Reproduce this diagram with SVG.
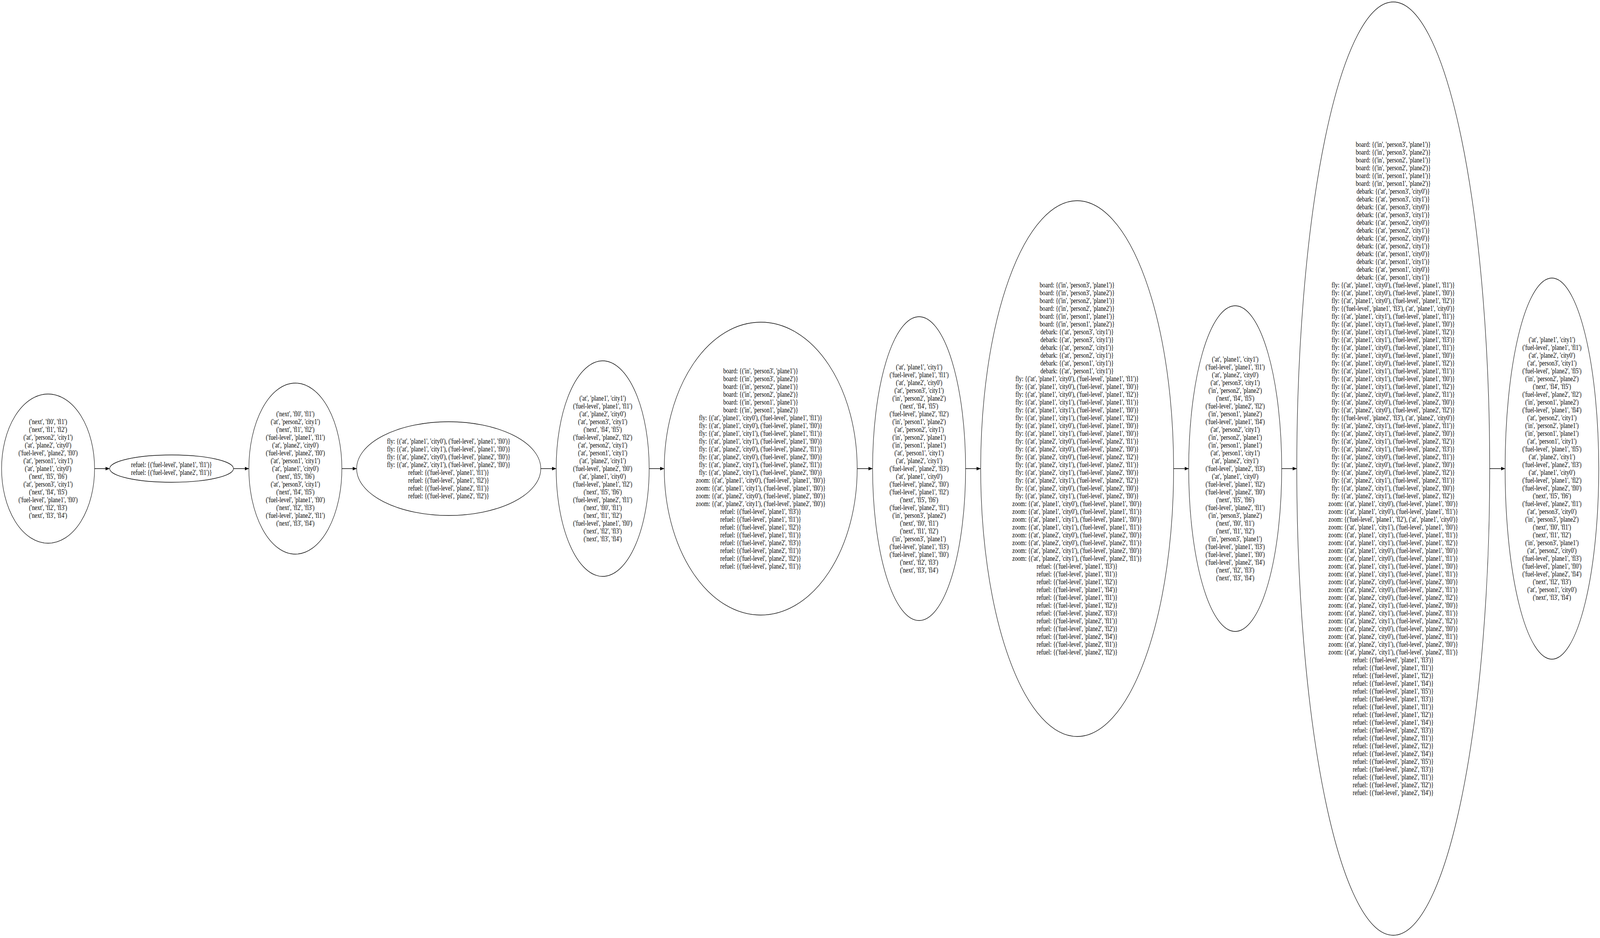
<svg xmlns="http://www.w3.org/2000/svg" width="5092" height="2402" viewBox="0 0 5092 2402" preserveAspectRatio="none">
<style>
svg{width:100vw;height:100vh;display:block}
.n ellipse{fill:none;stroke:#000;stroke-width:1.3}
text{font-family:"Liberation Serif","Times New Roman",serif;font-size:18.2px;text-anchor:middle;fill:#000}
.e line{stroke:#000;stroke-width:1.3}
</style>
<defs>
<marker id="arr" markerUnits="userSpaceOnUse" markerWidth="13" markerHeight="10" viewBox="0 0 13 9.2" refX="13" refY="4.6" orient="auto"><path d="M0,0 L13,4.6 L0,9.2 z" fill="#000"/></marker>
</defs>
<rect width="5092" height="2402" fill="#fff"/>
<g class="e" id="edges">
<line x1="301" y1="1200" x2="349" y2="1200" marker-end="url(#arr)"/>
<line x1="743" y1="1200" x2="792" y2="1200" marker-end="url(#arr)"/>
<line x1="1088" y1="1200" x2="1135" y2="1200" marker-end="url(#arr)"/>
<line x1="1721" y1="1200" x2="1770" y2="1200" marker-end="url(#arr)"/>
<line x1="2066" y1="1200" x2="2114" y2="1200" marker-end="url(#arr)"/>
<line x1="2728" y1="1200" x2="2777" y2="1200" marker-end="url(#arr)"/>
<line x1="3073" y1="1200" x2="3121" y2="1200" marker-end="url(#arr)"/>
<line x1="3735" y1="1200" x2="3783" y2="1200" marker-end="url(#arr)"/>
<line x1="4079" y1="1200" x2="4127" y2="1200" marker-end="url(#arr)"/>
<line x1="4741" y1="1200" x2="4790" y2="1200" marker-end="url(#arr)"/>
</g>
<g class="n" id="n1">
<ellipse cx="153" cy="1200" rx="148" ry="191"/>
<text y="1086"><tspan x="153">('next', 'fl0', 'fl1')</tspan><tspan x="153" dy="20">('next', 'fl1', 'fl2')</tspan><tspan x="153" dy="20">('at', 'person2', 'city1')</tspan><tspan x="153" dy="20">('at', 'plane2', 'city0')</tspan><tspan x="153" dy="20">('fuel-level', 'plane2', 'fl0')</tspan><tspan x="153" dy="20">('at', 'person1', 'city1')</tspan><tspan x="153" dy="20">('at', 'plane1', 'city0')</tspan><tspan x="153" dy="20">('next', 'fl5', 'fl6')</tspan><tspan x="153" dy="20">('at', 'person3', 'city1')</tspan><tspan x="153" dy="20">('next', 'fl4', 'fl5')</tspan><tspan x="153" dy="20">('fuel-level', 'plane1', 'fl0')</tspan><tspan x="153" dy="20">('next', 'fl2', 'fl3')</tspan><tspan x="153" dy="20">('next', 'fl3', 'fl4')</tspan></text>
</g>
<g class="n" id="n2">
<ellipse cx="546" cy="1200" rx="197" ry="35"/>
<text y="1196"><tspan x="546">refuel: {('fuel-level', 'plane1', 'fl1')}</tspan><tspan x="546" dy="20">refuel: {('fuel-level', 'plane2', 'fl1')}</tspan></text>
</g>
<g class="n" id="n3">
<ellipse cx="940" cy="1200" rx="148" ry="219"/>
<text y="1066"><tspan x="940">('next', 'fl0', 'fl1')</tspan><tspan x="940" dy="20">('at', 'person2', 'city1')</tspan><tspan x="940" dy="20">('next', 'fl1', 'fl2')</tspan><tspan x="940" dy="20">('fuel-level', 'plane1', 'fl1')</tspan><tspan x="940" dy="20">('at', 'plane2', 'city0')</tspan><tspan x="940" dy="20">('fuel-level', 'plane2', 'fl0')</tspan><tspan x="940" dy="20">('at', 'person1', 'city1')</tspan><tspan x="940" dy="20">('at', 'plane1', 'city0')</tspan><tspan x="940" dy="20">('next', 'fl5', 'fl6')</tspan><tspan x="940" dy="20">('at', 'person3', 'city1')</tspan><tspan x="940" dy="20">('next', 'fl4', 'fl5')</tspan><tspan x="940" dy="20">('fuel-level', 'plane1', 'fl0')</tspan><tspan x="940" dy="20">('next', 'fl2', 'fl3')</tspan><tspan x="940" dy="20">('fuel-level', 'plane2', 'fl1')</tspan><tspan x="940" dy="20">('next', 'fl3', 'fl4')</tspan></text>
</g>
<g class="n" id="n4">
<ellipse cx="1428" cy="1200" rx="293" ry="120"/>
<text y="1136"><tspan x="1428">fly: {('at', 'plane1', 'city0'), ('fuel-level', 'plane1', 'fl0')}</tspan><tspan x="1428" dy="20">fly: {('at', 'plane1', 'city1'), ('fuel-level', 'plane1', 'fl0')}</tspan><tspan x="1428" dy="20">fly: {('at', 'plane2', 'city0'), ('fuel-level', 'plane2', 'fl0')}</tspan><tspan x="1428" dy="20">fly: {('at', 'plane2', 'city1'), ('fuel-level', 'plane2', 'fl0')}</tspan><tspan x="1428" dy="20">refuel: {('fuel-level', 'plane1', 'fl1')}</tspan><tspan x="1428" dy="20">refuel: {('fuel-level', 'plane1', 'fl2')}</tspan><tspan x="1428" dy="20">refuel: {('fuel-level', 'plane2', 'fl1')}</tspan><tspan x="1428" dy="20">refuel: {('fuel-level', 'plane2', 'fl2')}</tspan></text>
</g>
<g class="n" id="n5">
<ellipse cx="1918" cy="1200" rx="148" ry="276"/>
<text y="1026"><tspan x="1918">('at', 'plane1', 'city1')</tspan><tspan x="1918" dy="20">('fuel-level', 'plane1', 'fl1')</tspan><tspan x="1918" dy="20">('at', 'plane2', 'city0')</tspan><tspan x="1918" dy="20">('at', 'person3', 'city1')</tspan><tspan x="1918" dy="20">('next', 'fl4', 'fl5')</tspan><tspan x="1918" dy="20">('fuel-level', 'plane2', 'fl2')</tspan><tspan x="1918" dy="20">('at', 'person2', 'city1')</tspan><tspan x="1918" dy="20">('at', 'person1', 'city1')</tspan><tspan x="1918" dy="20">('at', 'plane2', 'city1')</tspan><tspan x="1918" dy="20">('fuel-level', 'plane2', 'fl0')</tspan><tspan x="1918" dy="20">('at', 'plane1', 'city0')</tspan><tspan x="1918" dy="20">('fuel-level', 'plane1', 'fl2')</tspan><tspan x="1918" dy="20">('next', 'fl5', 'fl6')</tspan><tspan x="1918" dy="20">('fuel-level', 'plane2', 'fl1')</tspan><tspan x="1918" dy="20">('next', 'fl0', 'fl1')</tspan><tspan x="1918" dy="20">('next', 'fl1', 'fl2')</tspan><tspan x="1918" dy="20">('fuel-level', 'plane1', 'fl0')</tspan><tspan x="1918" dy="20">('next', 'fl2', 'fl3')</tspan><tspan x="1918" dy="20">('next', 'fl3', 'fl4')</tspan></text>
</g>
<g class="n" id="n6">
<ellipse cx="2421" cy="1200" rx="307" ry="375"/>
<text y="956"><tspan x="2421">board: {('in', 'person3', 'plane1')}</tspan><tspan x="2421" dy="20">board: {('in', 'person3', 'plane2')}</tspan><tspan x="2421" dy="20">board: {('in', 'person2', 'plane1')}</tspan><tspan x="2421" dy="20">board: {('in', 'person2', 'plane2')}</tspan><tspan x="2421" dy="20">board: {('in', 'person1', 'plane1')}</tspan><tspan x="2421" dy="20">board: {('in', 'person1', 'plane2')}</tspan><tspan x="2421" dy="20">fly: {('at', 'plane1', 'city0'), ('fuel-level', 'plane1', 'fl1')}</tspan><tspan x="2421" dy="20">fly: {('at', 'plane1', 'city0'), ('fuel-level', 'plane1', 'fl0')}</tspan><tspan x="2421" dy="20">fly: {('at', 'plane1', 'city1'), ('fuel-level', 'plane1', 'fl1')}</tspan><tspan x="2421" dy="20">fly: {('at', 'plane1', 'city1'), ('fuel-level', 'plane1', 'fl0')}</tspan><tspan x="2421" dy="20">fly: {('at', 'plane2', 'city0'), ('fuel-level', 'plane2', 'fl1')}</tspan><tspan x="2421" dy="20">fly: {('at', 'plane2', 'city0'), ('fuel-level', 'plane2', 'fl0')}</tspan><tspan x="2421" dy="20">fly: {('at', 'plane2', 'city1'), ('fuel-level', 'plane2', 'fl1')}</tspan><tspan x="2421" dy="20">fly: {('at', 'plane2', 'city1'), ('fuel-level', 'plane2', 'fl0')}</tspan><tspan x="2421" dy="20">zoom: {('at', 'plane1', 'city0'), ('fuel-level', 'plane1', 'fl0')}</tspan><tspan x="2421" dy="20">zoom: {('at', 'plane1', 'city1'), ('fuel-level', 'plane1', 'fl0')}</tspan><tspan x="2421" dy="20">zoom: {('at', 'plane2', 'city0'), ('fuel-level', 'plane2', 'fl0')}</tspan><tspan x="2421" dy="20">zoom: {('at', 'plane2', 'city1'), ('fuel-level', 'plane2', 'fl0')}</tspan><tspan x="2421" dy="20">refuel: {('fuel-level', 'plane1', 'fl3')}</tspan><tspan x="2421" dy="20">refuel: {('fuel-level', 'plane1', 'fl1')}</tspan><tspan x="2421" dy="20">refuel: {('fuel-level', 'plane1', 'fl2')}</tspan><tspan x="2421" dy="20">refuel: {('fuel-level', 'plane1', 'fl1')}</tspan><tspan x="2421" dy="20">refuel: {('fuel-level', 'plane2', 'fl3')}</tspan><tspan x="2421" dy="20">refuel: {('fuel-level', 'plane2', 'fl1')}</tspan><tspan x="2421" dy="20">refuel: {('fuel-level', 'plane2', 'fl2')}</tspan><tspan x="2421" dy="20">refuel: {('fuel-level', 'plane2', 'fl1')}</tspan></text>
</g>
<g class="n" id="n7">
<ellipse cx="2925" cy="1200" rx="148" ry="389"/>
<text y="946"><tspan x="2925">('at', 'plane1', 'city1')</tspan><tspan x="2925" dy="20">('fuel-level', 'plane1', 'fl1')</tspan><tspan x="2925" dy="20">('at', 'plane2', 'city0')</tspan><tspan x="2925" dy="20">('at', 'person3', 'city1')</tspan><tspan x="2925" dy="20">('in', 'person2', 'plane2')</tspan><tspan x="2925" dy="20">('next', 'fl4', 'fl5')</tspan><tspan x="2925" dy="20">('fuel-level', 'plane2', 'fl2')</tspan><tspan x="2925" dy="20">('in', 'person1', 'plane2')</tspan><tspan x="2925" dy="20">('at', 'person2', 'city1')</tspan><tspan x="2925" dy="20">('in', 'person2', 'plane1')</tspan><tspan x="2925" dy="20">('in', 'person1', 'plane1')</tspan><tspan x="2925" dy="20">('at', 'person1', 'city1')</tspan><tspan x="2925" dy="20">('at', 'plane2', 'city1')</tspan><tspan x="2925" dy="20">('fuel-level', 'plane2', 'fl3')</tspan><tspan x="2925" dy="20">('at', 'plane1', 'city0')</tspan><tspan x="2925" dy="20">('fuel-level', 'plane2', 'fl0')</tspan><tspan x="2925" dy="20">('fuel-level', 'plane1', 'fl2')</tspan><tspan x="2925" dy="20">('next', 'fl5', 'fl6')</tspan><tspan x="2925" dy="20">('fuel-level', 'plane2', 'fl1')</tspan><tspan x="2925" dy="20">('in', 'person3', 'plane2')</tspan><tspan x="2925" dy="20">('next', 'fl0', 'fl1')</tspan><tspan x="2925" dy="20">('next', 'fl1', 'fl2')</tspan><tspan x="2925" dy="20">('in', 'person3', 'plane1')</tspan><tspan x="2925" dy="20">('fuel-level', 'plane1', 'fl3')</tspan><tspan x="2925" dy="20">('fuel-level', 'plane1', 'fl0')</tspan><tspan x="2925" dy="20">('next', 'fl2', 'fl3')</tspan><tspan x="2925" dy="20">('next', 'fl3', 'fl4')</tspan></text>
</g>
<g class="n" id="n8">
<ellipse cx="3428" cy="1200" rx="307" ry="686"/>
<text y="736"><tspan x="3428">board: {('in', 'person3', 'plane1')}</tspan><tspan x="3428" dy="20">board: {('in', 'person3', 'plane2')}</tspan><tspan x="3428" dy="20">board: {('in', 'person2', 'plane1')}</tspan><tspan x="3428" dy="20">board: {('in', 'person2', 'plane2')}</tspan><tspan x="3428" dy="20">board: {('in', 'person1', 'plane1')}</tspan><tspan x="3428" dy="20">board: {('in', 'person1', 'plane2')}</tspan><tspan x="3428" dy="20">debark: {('at', 'person3', 'city1')}</tspan><tspan x="3428" dy="20">debark: {('at', 'person3', 'city1')}</tspan><tspan x="3428" dy="20">debark: {('at', 'person2', 'city1')}</tspan><tspan x="3428" dy="20">debark: {('at', 'person2', 'city1')}</tspan><tspan x="3428" dy="20">debark: {('at', 'person1', 'city1')}</tspan><tspan x="3428" dy="20">debark: {('at', 'person1', 'city1')}</tspan><tspan x="3428" dy="20">fly: {('at', 'plane1', 'city0'), ('fuel-level', 'plane1', 'fl1')}</tspan><tspan x="3428" dy="20">fly: {('at', 'plane1', 'city0'), ('fuel-level', 'plane1', 'fl0')}</tspan><tspan x="3428" dy="20">fly: {('at', 'plane1', 'city0'), ('fuel-level', 'plane1', 'fl2')}</tspan><tspan x="3428" dy="20">fly: {('at', 'plane1', 'city1'), ('fuel-level', 'plane1', 'fl1')}</tspan><tspan x="3428" dy="20">fly: {('at', 'plane1', 'city1'), ('fuel-level', 'plane1', 'fl0')}</tspan><tspan x="3428" dy="20">fly: {('at', 'plane1', 'city1'), ('fuel-level', 'plane1', 'fl2')}</tspan><tspan x="3428" dy="20">fly: {('at', 'plane1', 'city0'), ('fuel-level', 'plane1', 'fl0')}</tspan><tspan x="3428" dy="20">fly: {('at', 'plane1', 'city1'), ('fuel-level', 'plane1', 'fl0')}</tspan><tspan x="3428" dy="20">fly: {('at', 'plane2', 'city0'), ('fuel-level', 'plane2', 'fl1')}</tspan><tspan x="3428" dy="20">fly: {('at', 'plane2', 'city0'), ('fuel-level', 'plane2', 'fl0')}</tspan><tspan x="3428" dy="20">fly: {('at', 'plane2', 'city0'), ('fuel-level', 'plane2', 'fl2')}</tspan><tspan x="3428" dy="20">fly: {('at', 'plane2', 'city1'), ('fuel-level', 'plane2', 'fl1')}</tspan><tspan x="3428" dy="20">fly: {('at', 'plane2', 'city1'), ('fuel-level', 'plane2', 'fl0')}</tspan><tspan x="3428" dy="20">fly: {('at', 'plane2', 'city1'), ('fuel-level', 'plane2', 'fl2')}</tspan><tspan x="3428" dy="20">fly: {('at', 'plane2', 'city0'), ('fuel-level', 'plane2', 'fl0')}</tspan><tspan x="3428" dy="20">fly: {('at', 'plane2', 'city1'), ('fuel-level', 'plane2', 'fl0')}</tspan><tspan x="3428" dy="20">zoom: {('at', 'plane1', 'city0'), ('fuel-level', 'plane1', 'fl0')}</tspan><tspan x="3428" dy="20">zoom: {('at', 'plane1', 'city0'), ('fuel-level', 'plane1', 'fl1')}</tspan><tspan x="3428" dy="20">zoom: {('at', 'plane1', 'city1'), ('fuel-level', 'plane1', 'fl0')}</tspan><tspan x="3428" dy="20">zoom: {('at', 'plane1', 'city1'), ('fuel-level', 'plane1', 'fl1')}</tspan><tspan x="3428" dy="20">zoom: {('at', 'plane2', 'city0'), ('fuel-level', 'plane2', 'fl0')}</tspan><tspan x="3428" dy="20">zoom: {('at', 'plane2', 'city0'), ('fuel-level', 'plane2', 'fl1')}</tspan><tspan x="3428" dy="20">zoom: {('at', 'plane2', 'city1'), ('fuel-level', 'plane2', 'fl0')}</tspan><tspan x="3428" dy="20">zoom: {('at', 'plane2', 'city1'), ('fuel-level', 'plane2', 'fl1')}</tspan><tspan x="3428" dy="20">refuel: {('fuel-level', 'plane1', 'fl3')}</tspan><tspan x="3428" dy="20">refuel: {('fuel-level', 'plane1', 'fl1')}</tspan><tspan x="3428" dy="20">refuel: {('fuel-level', 'plane1', 'fl2')}</tspan><tspan x="3428" dy="20">refuel: {('fuel-level', 'plane1', 'fl4')}</tspan><tspan x="3428" dy="20">refuel: {('fuel-level', 'plane1', 'fl1')}</tspan><tspan x="3428" dy="20">refuel: {('fuel-level', 'plane1', 'fl2')}</tspan><tspan x="3428" dy="20">refuel: {('fuel-level', 'plane2', 'fl3')}</tspan><tspan x="3428" dy="20">refuel: {('fuel-level', 'plane2', 'fl1')}</tspan><tspan x="3428" dy="20">refuel: {('fuel-level', 'plane2', 'fl2')}</tspan><tspan x="3428" dy="20">refuel: {('fuel-level', 'plane2', 'fl4')}</tspan><tspan x="3428" dy="20">refuel: {('fuel-level', 'plane2', 'fl1')}</tspan><tspan x="3428" dy="20">refuel: {('fuel-level', 'plane2', 'fl2')}</tspan></text>
</g>
<g class="n" id="n9">
<ellipse cx="3931" cy="1200" rx="148" ry="417"/>
<text y="926"><tspan x="3931">('at', 'plane1', 'city1')</tspan><tspan x="3931" dy="20">('fuel-level', 'plane1', 'fl1')</tspan><tspan x="3931" dy="20">('at', 'plane2', 'city0')</tspan><tspan x="3931" dy="20">('at', 'person3', 'city1')</tspan><tspan x="3931" dy="20">('in', 'person2', 'plane2')</tspan><tspan x="3931" dy="20">('next', 'fl4', 'fl5')</tspan><tspan x="3931" dy="20">('fuel-level', 'plane2', 'fl2')</tspan><tspan x="3931" dy="20">('in', 'person1', 'plane2')</tspan><tspan x="3931" dy="20">('fuel-level', 'plane1', 'fl4')</tspan><tspan x="3931" dy="20">('at', 'person2', 'city1')</tspan><tspan x="3931" dy="20">('in', 'person2', 'plane1')</tspan><tspan x="3931" dy="20">('in', 'person1', 'plane1')</tspan><tspan x="3931" dy="20">('at', 'person1', 'city1')</tspan><tspan x="3931" dy="20">('at', 'plane2', 'city1')</tspan><tspan x="3931" dy="20">('fuel-level', 'plane2', 'fl3')</tspan><tspan x="3931" dy="20">('at', 'plane1', 'city0')</tspan><tspan x="3931" dy="20">('fuel-level', 'plane1', 'fl2')</tspan><tspan x="3931" dy="20">('fuel-level', 'plane2', 'fl0')</tspan><tspan x="3931" dy="20">('next', 'fl5', 'fl6')</tspan><tspan x="3931" dy="20">('fuel-level', 'plane2', 'fl1')</tspan><tspan x="3931" dy="20">('in', 'person3', 'plane2')</tspan><tspan x="3931" dy="20">('next', 'fl0', 'fl1')</tspan><tspan x="3931" dy="20">('next', 'fl1', 'fl2')</tspan><tspan x="3931" dy="20">('in', 'person3', 'plane1')</tspan><tspan x="3931" dy="20">('fuel-level', 'plane1', 'fl3')</tspan><tspan x="3931" dy="20">('fuel-level', 'plane1', 'fl0')</tspan><tspan x="3931" dy="20">('fuel-level', 'plane2', 'fl4')</tspan><tspan x="3931" dy="20">('next', 'fl2', 'fl3')</tspan><tspan x="3931" dy="20">('next', 'fl3', 'fl4')</tspan></text>
</g>
<g class="n" id="n10">
<ellipse cx="4434" cy="1200" rx="307" ry="1195"/>
<text y="376"><tspan x="4434">board: {('in', 'person3', 'plane1')}</tspan><tspan x="4434" dy="20">board: {('in', 'person3', 'plane2')}</tspan><tspan x="4434" dy="20">board: {('in', 'person2', 'plane1')}</tspan><tspan x="4434" dy="20">board: {('in', 'person2', 'plane2')}</tspan><tspan x="4434" dy="20">board: {('in', 'person1', 'plane1')}</tspan><tspan x="4434" dy="20">board: {('in', 'person1', 'plane2')}</tspan><tspan x="4434" dy="20">debark: {('at', 'person3', 'city0')}</tspan><tspan x="4434" dy="20">debark: {('at', 'person3', 'city1')}</tspan><tspan x="4434" dy="20">debark: {('at', 'person3', 'city0')}</tspan><tspan x="4434" dy="20">debark: {('at', 'person3', 'city1')}</tspan><tspan x="4434" dy="20">debark: {('at', 'person2', 'city0')}</tspan><tspan x="4434" dy="20">debark: {('at', 'person2', 'city1')}</tspan><tspan x="4434" dy="20">debark: {('at', 'person2', 'city0')}</tspan><tspan x="4434" dy="20">debark: {('at', 'person2', 'city1')}</tspan><tspan x="4434" dy="20">debark: {('at', 'person1', 'city0')}</tspan><tspan x="4434" dy="20">debark: {('at', 'person1', 'city1')}</tspan><tspan x="4434" dy="20">debark: {('at', 'person1', 'city0')}</tspan><tspan x="4434" dy="20">debark: {('at', 'person1', 'city1')}</tspan><tspan x="4434" dy="20">fly: {('at', 'plane1', 'city0'), ('fuel-level', 'plane1', 'fl1')}</tspan><tspan x="4434" dy="20">fly: {('at', 'plane1', 'city0'), ('fuel-level', 'plane1', 'fl0')}</tspan><tspan x="4434" dy="20">fly: {('at', 'plane1', 'city0'), ('fuel-level', 'plane1', 'fl2')}</tspan><tspan x="4434" dy="20">fly: {('fuel-level', 'plane1', 'fl3'), ('at', 'plane1', 'city0')}</tspan><tspan x="4434" dy="20">fly: {('at', 'plane1', 'city1'), ('fuel-level', 'plane1', 'fl1')}</tspan><tspan x="4434" dy="20">fly: {('at', 'plane1', 'city1'), ('fuel-level', 'plane1', 'fl0')}</tspan><tspan x="4434" dy="20">fly: {('at', 'plane1', 'city1'), ('fuel-level', 'plane1', 'fl2')}</tspan><tspan x="4434" dy="20">fly: {('at', 'plane1', 'city1'), ('fuel-level', 'plane1', 'fl3')}</tspan><tspan x="4434" dy="20">fly: {('at', 'plane1', 'city0'), ('fuel-level', 'plane1', 'fl1')}</tspan><tspan x="4434" dy="20">fly: {('at', 'plane1', 'city0'), ('fuel-level', 'plane1', 'fl0')}</tspan><tspan x="4434" dy="20">fly: {('at', 'plane1', 'city0'), ('fuel-level', 'plane1', 'fl2')}</tspan><tspan x="4434" dy="20">fly: {('at', 'plane1', 'city1'), ('fuel-level', 'plane1', 'fl1')}</tspan><tspan x="4434" dy="20">fly: {('at', 'plane1', 'city1'), ('fuel-level', 'plane1', 'fl0')}</tspan><tspan x="4434" dy="20">fly: {('at', 'plane1', 'city1'), ('fuel-level', 'plane1', 'fl2')}</tspan><tspan x="4434" dy="20">fly: {('at', 'plane2', 'city0'), ('fuel-level', 'plane2', 'fl1')}</tspan><tspan x="4434" dy="20">fly: {('at', 'plane2', 'city0'), ('fuel-level', 'plane2', 'fl0')}</tspan><tspan x="4434" dy="20">fly: {('at', 'plane2', 'city0'), ('fuel-level', 'plane2', 'fl2')}</tspan><tspan x="4434" dy="20">fly: {('fuel-level', 'plane2', 'fl3'), ('at', 'plane2', 'city0')}</tspan><tspan x="4434" dy="20">fly: {('at', 'plane2', 'city1'), ('fuel-level', 'plane2', 'fl1')}</tspan><tspan x="4434" dy="20">fly: {('at', 'plane2', 'city1'), ('fuel-level', 'plane2', 'fl0')}</tspan><tspan x="4434" dy="20">fly: {('at', 'plane2', 'city1'), ('fuel-level', 'plane2', 'fl2')}</tspan><tspan x="4434" dy="20">fly: {('at', 'plane2', 'city1'), ('fuel-level', 'plane2', 'fl3')}</tspan><tspan x="4434" dy="20">fly: {('at', 'plane2', 'city0'), ('fuel-level', 'plane2', 'fl1')}</tspan><tspan x="4434" dy="20">fly: {('at', 'plane2', 'city0'), ('fuel-level', 'plane2', 'fl0')}</tspan><tspan x="4434" dy="20">fly: {('at', 'plane2', 'city0'), ('fuel-level', 'plane2', 'fl2')}</tspan><tspan x="4434" dy="20">fly: {('at', 'plane2', 'city1'), ('fuel-level', 'plane2', 'fl1')}</tspan><tspan x="4434" dy="20">fly: {('at', 'plane2', 'city1'), ('fuel-level', 'plane2', 'fl0')}</tspan><tspan x="4434" dy="20">fly: {('at', 'plane2', 'city1'), ('fuel-level', 'plane2', 'fl2')}</tspan><tspan x="4434" dy="20">zoom: {('at', 'plane1', 'city0'), ('fuel-level', 'plane1', 'fl0')}</tspan><tspan x="4434" dy="20">zoom: {('at', 'plane1', 'city0'), ('fuel-level', 'plane1', 'fl1')}</tspan><tspan x="4434" dy="20">zoom: {('fuel-level', 'plane1', 'fl2'), ('at', 'plane1', 'city0')}</tspan><tspan x="4434" dy="20">zoom: {('at', 'plane1', 'city1'), ('fuel-level', 'plane1', 'fl0')}</tspan><tspan x="4434" dy="20">zoom: {('at', 'plane1', 'city1'), ('fuel-level', 'plane1', 'fl1')}</tspan><tspan x="4434" dy="20">zoom: {('at', 'plane1', 'city1'), ('fuel-level', 'plane1', 'fl2')}</tspan><tspan x="4434" dy="20">zoom: {('at', 'plane1', 'city0'), ('fuel-level', 'plane1', 'fl0')}</tspan><tspan x="4434" dy="20">zoom: {('at', 'plane1', 'city0'), ('fuel-level', 'plane1', 'fl1')}</tspan><tspan x="4434" dy="20">zoom: {('at', 'plane1', 'city1'), ('fuel-level', 'plane1', 'fl0')}</tspan><tspan x="4434" dy="20">zoom: {('at', 'plane1', 'city1'), ('fuel-level', 'plane1', 'fl1')}</tspan><tspan x="4434" dy="20">zoom: {('at', 'plane2', 'city0'), ('fuel-level', 'plane2', 'fl0')}</tspan><tspan x="4434" dy="20">zoom: {('at', 'plane2', 'city0'), ('fuel-level', 'plane2', 'fl1')}</tspan><tspan x="4434" dy="20">zoom: {('at', 'plane2', 'city0'), ('fuel-level', 'plane2', 'fl2')}</tspan><tspan x="4434" dy="20">zoom: {('at', 'plane2', 'city1'), ('fuel-level', 'plane2', 'fl0')}</tspan><tspan x="4434" dy="20">zoom: {('at', 'plane2', 'city1'), ('fuel-level', 'plane2', 'fl1')}</tspan><tspan x="4434" dy="20">zoom: {('at', 'plane2', 'city1'), ('fuel-level', 'plane2', 'fl2')}</tspan><tspan x="4434" dy="20">zoom: {('at', 'plane2', 'city0'), ('fuel-level', 'plane2', 'fl0')}</tspan><tspan x="4434" dy="20">zoom: {('at', 'plane2', 'city0'), ('fuel-level', 'plane2', 'fl1')}</tspan><tspan x="4434" dy="20">zoom: {('at', 'plane2', 'city1'), ('fuel-level', 'plane2', 'fl0')}</tspan><tspan x="4434" dy="20">zoom: {('at', 'plane2', 'city1'), ('fuel-level', 'plane2', 'fl1')}</tspan><tspan x="4434" dy="20">refuel: {('fuel-level', 'plane1', 'fl3')}</tspan><tspan x="4434" dy="20">refuel: {('fuel-level', 'plane1', 'fl1')}</tspan><tspan x="4434" dy="20">refuel: {('fuel-level', 'plane1', 'fl2')}</tspan><tspan x="4434" dy="20">refuel: {('fuel-level', 'plane1', 'fl4')}</tspan><tspan x="4434" dy="20">refuel: {('fuel-level', 'plane1', 'fl5')}</tspan><tspan x="4434" dy="20">refuel: {('fuel-level', 'plane1', 'fl3')}</tspan><tspan x="4434" dy="20">refuel: {('fuel-level', 'plane1', 'fl1')}</tspan><tspan x="4434" dy="20">refuel: {('fuel-level', 'plane1', 'fl2')}</tspan><tspan x="4434" dy="20">refuel: {('fuel-level', 'plane1', 'fl4')}</tspan><tspan x="4434" dy="20">refuel: {('fuel-level', 'plane2', 'fl3')}</tspan><tspan x="4434" dy="20">refuel: {('fuel-level', 'plane2', 'fl1')}</tspan><tspan x="4434" dy="20">refuel: {('fuel-level', 'plane2', 'fl2')}</tspan><tspan x="4434" dy="20">refuel: {('fuel-level', 'plane2', 'fl4')}</tspan><tspan x="4434" dy="20">refuel: {('fuel-level', 'plane2', 'fl5')}</tspan><tspan x="4434" dy="20">refuel: {('fuel-level', 'plane2', 'fl3')}</tspan><tspan x="4434" dy="20">refuel: {('fuel-level', 'plane2', 'fl1')}</tspan><tspan x="4434" dy="20">refuel: {('fuel-level', 'plane2', 'fl2')}</tspan><tspan x="4434" dy="20">refuel: {('fuel-level', 'plane2', 'fl4')}</tspan></text>
</g>
<g class="n" id="n11">
<ellipse cx="4939" cy="1200" rx="149" ry="488"/>
<text y="876"><tspan x="4939">('at', 'plane1', 'city1')</tspan><tspan x="4939" dy="20">('fuel-level', 'plane1', 'fl1')</tspan><tspan x="4939" dy="20">('at', 'plane2', 'city0')</tspan><tspan x="4939" dy="20">('at', 'person3', 'city1')</tspan><tspan x="4939" dy="20">('fuel-level', 'plane2', 'fl5')</tspan><tspan x="4939" dy="20">('in', 'person2', 'plane2')</tspan><tspan x="4939" dy="20">('next', 'fl4', 'fl5')</tspan><tspan x="4939" dy="20">('fuel-level', 'plane2', 'fl2')</tspan><tspan x="4939" dy="20">('in', 'person1', 'plane2')</tspan><tspan x="4939" dy="20">('fuel-level', 'plane1', 'fl4')</tspan><tspan x="4939" dy="20">('at', 'person2', 'city1')</tspan><tspan x="4939" dy="20">('in', 'person2', 'plane1')</tspan><tspan x="4939" dy="20">('in', 'person1', 'plane1')</tspan><tspan x="4939" dy="20">('at', 'person1', 'city1')</tspan><tspan x="4939" dy="20">('fuel-level', 'plane1', 'fl5')</tspan><tspan x="4939" dy="20">('at', 'plane2', 'city1')</tspan><tspan x="4939" dy="20">('fuel-level', 'plane2', 'fl3')</tspan><tspan x="4939" dy="20">('at', 'plane1', 'city0')</tspan><tspan x="4939" dy="20">('fuel-level', 'plane1', 'fl2')</tspan><tspan x="4939" dy="20">('fuel-level', 'plane2', 'fl0')</tspan><tspan x="4939" dy="20">('next', 'fl5', 'fl6')</tspan><tspan x="4939" dy="20">('fuel-level', 'plane2', 'fl1')</tspan><tspan x="4939" dy="20">('at', 'person3', 'city0')</tspan><tspan x="4939" dy="20">('in', 'person3', 'plane2')</tspan><tspan x="4939" dy="20">('next', 'fl0', 'fl1')</tspan><tspan x="4939" dy="20">('next', 'fl1', 'fl2')</tspan><tspan x="4939" dy="20">('in', 'person3', 'plane1')</tspan><tspan x="4939" dy="20">('at', 'person2', 'city0')</tspan><tspan x="4939" dy="20">('fuel-level', 'plane1', 'fl3')</tspan><tspan x="4939" dy="20">('fuel-level', 'plane1', 'fl0')</tspan><tspan x="4939" dy="20">('fuel-level', 'plane2', 'fl4')</tspan><tspan x="4939" dy="20">('next', 'fl2', 'fl3')</tspan><tspan x="4939" dy="20">('at', 'person1', 'city0')</tspan><tspan x="4939" dy="20">('next', 'fl3', 'fl4')</tspan></text>
</g>
</svg>
